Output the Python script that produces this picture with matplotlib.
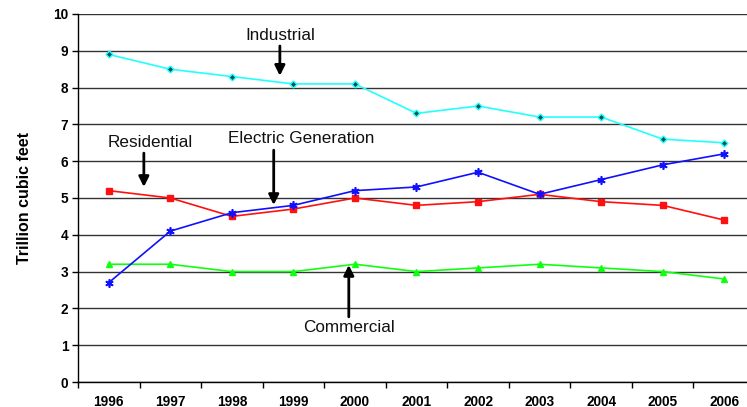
import matplotlib.pyplot as plt

plt.rcParams['font.family'] = ['Liberation Sans', 'DejaVu Sans']

years = ['1996', '1997', '1998', '1999', '2000', '2001',
         '2002', '2003', '2004', '2005', '2006']
industrial = [8.9, 8.5, 8.3, 8.1, 8.1, 7.3, 7.5, 7.2, 7.2, 6.6, 6.5]
residential = [5.2, 5.0, 4.5, 4.7, 5.0, 4.8, 4.9, 5.1, 4.9, 4.8, 4.4]
electric = [2.7, 4.1, 4.6, 4.8, 5.2, 5.3, 5.7, 5.1, 5.5, 5.9, 6.2]
commercial = [3.2, 3.2, 3.0, 3.0, 3.2, 3.0, 3.1, 3.2, 3.1, 3.0, 2.8]

fig = plt.figure(figsize=(7.47, 4.07), dpi=100)
# plot area runs slightly past the right edge, like the original export
ax = fig.add_axes([78 / 747, 25 / 407, 677 / 747, 368 / 407])

x = list(range(len(years)))

ax.plot(x, industrial, color='#22ffff', lw=1.2, marker='D', ms=3.5,
        mfc='#005555', mec='#22ffff', mew=1, zorder=3)
ax.plot(x, residential, color='#ff1010', lw=1.2, marker='s', ms=4,
        mfc='#ff1010', mec='#ff1010', zorder=3)
ax.plot(x, electric, color='#1010ff', lw=1.2, marker=(6, 2, 0), ms=6,
        mec='#1010ff', mew=1.2, zorder=4)
ax.plot(x, commercial, color='#10ff10', lw=1.2, marker='^', ms=5,
        mfc='#10ff10', mec='#10ff10', zorder=3)

ax.set_xlim(-0.5, len(years) - 0.5)
ax.set_ylim(0, 10)
ax.set_yticks(range(0, 11))
ax.yaxis.grid(True, color='#333333', lw=1)
ax.set_axisbelow(True)

# years sit between the tick marks (category axis)
ax.set_xticks([i - 0.5 for i in x] + [len(years) - 0.5])
ax.set_xticklabels([])
ax.set_xticks(x, minor=True)
ax.set_xticklabels(years, minor=True, fontsize=9.8, fontweight='bold')
ax.tick_params(axis='x', which='minor', length=0, pad=9)
ax.tick_params(axis='x', which='major', length=4, width=1, direction='out')
ax.tick_params(axis='y', length=4, width=1, labelsize=9.8, pad=3)
for lab in ax.get_yticklabels():
    lab.set_fontweight('bold')

for side in ['top', 'right']:
    ax.spines[side].set_visible(False)
ax.spines['left'].set_linewidth(1)
ax.spines['bottom'].set_linewidth(1)

ax.set_ylabel('Trillion cubic feet', fontsize=11.5, fontweight='bold', labelpad=15)

# series labels with arrows pointing at the lines
arrow = dict(arrowstyle='-|>', color='black', lw=2, mutation_scale=15,
             shrinkA=0, shrinkB=0)
labels = [
    ('Industrial', 2.78, 9.29, 2.78, 9.13, 8.32),
    ('Residential', 0.68, 6.39, 0.57, 6.22, 5.30),
    ('Electric Generation', 3.12, 6.49, 2.68, 6.30, 4.81),
    ('Commercial', 3.91, 1.36, 3.90, 1.77, 3.18),
]
for name, tx, ty, ax_x, y0, y1 in labels:
    ax.text(tx, ty, name, ha='center', va='baseline', fontsize=12.3,
            color='#111111')
    ax.annotate('', xy=(ax_x, y1), xytext=(ax_x, y0), arrowprops=arrow)

fig.savefig('out.png', dpi=100)
